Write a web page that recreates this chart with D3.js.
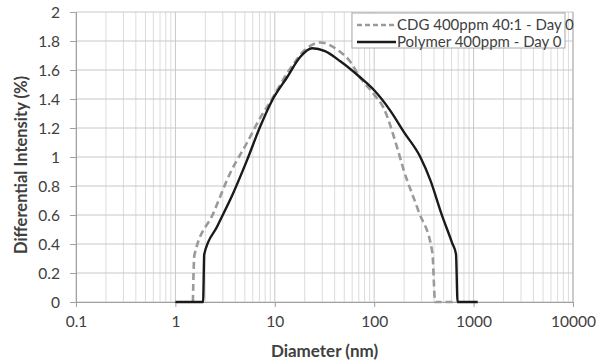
<!DOCTYPE html>
<html>
<head>
<meta charset="utf-8">
<script src="https://cdn.jsdelivr.net/npm/d3@7"></script>
<style>
  body { margin: 0; background: #fff; }
  #chart { width: 604px; height: 364px; }
  text { font-family: Lato, "Open Sans", sans-serif; fill: #404040; }
</style>
</head>
<body>
<div id="chart"></div>
<script>
// values
var cdgX = [1.5, 1.55, 2.4, 3.56, 5.27, 7.13, 9, 14, 21, 28.6, 42.5, 57, 72, 100, 124, 171, 196, 278, 385, 410, 650]
var cdgY = [0, 0.32, 0.61, 0.89, 1.10, 1.27, 1.38, 1.60, 1.75, 1.79, 1.74, 1.66, 1.55, 1.43, 1.34, 1.06, 0.92, 0.63, 0.34, 0, 0]
var polyX = [1, 1.9, 1.95, 2.63, 3.81, 5.27, 7.13, 9.4, 13.3, 18, 23.8, 32, 45.6, 72, 100, 145, 200, 291, 367, 474, 606, 665, 690, 1100]
var polyY = [0, 0, 0.33, 0.52, 0.75, 0.98, 1.21, 1.39, 1.55, 1.69, 1.75, 1.73, 1.66, 1.55, 1.46, 1.32, 1.17, 1.0, 0.84, 0.61, 0.41, 0.33, 0, 0]
var seriesNames = ["CDG 400ppm 40:1 - Day 0", "Polymer 400ppm - Day 0"]
var xTicks = [0.1, 1, 10, 100, 1000, 10000]
var yTicks = [0, 0.2, 0.4, 0.6, 0.8, 1, 1.2, 1.4, 1.6, 1.8, 2]

var width = 604, height = 364
const margin = {top: 12, right: 31, bottom: 62, left: 76}

var svg = d3.select("#chart").append("svg")
    .attr("width", width)
    .attr("height", height)
    .attr("display", "block")

var xScale = d3.scaleLog()
    .domain([0.1, 10000])
    .range([margin.left, width - margin.right])
var yScale = d3.scaleLinear()
    .domain([0, 2])
    .range([height - margin.bottom, margin.top])

// minor gridlines for the log axis
var minor = []
for (var e = -1; e < 4; e++)
    for (var m = 2; m < 10; m++)
        minor.push(m * Math.pow(10, e))

svg.append("g").selectAll("line").data(minor).enter().append("line")
    .attr("x1", d => xScale(d)).attr("x2", d => xScale(d))
    .attr("y1", yScale(0)).attr("y2", yScale(2))
    .attr("stroke", "#dcdcdc").attr("stroke-width", 1)

svg.append("g").selectAll("line").data(xTicks).enter().append("line")
    .attr("x1", d => xScale(d)).attr("x2", d => xScale(d))
    .attr("y1", yScale(0)).attr("y2", yScale(2))
    .attr("stroke", "#c8c8c8").attr("stroke-width", 1)

svg.append("g").selectAll("line").data(yTicks).enter().append("line")
    .attr("x1", xScale(0.1)).attr("x2", xScale(10000))
    .attr("y1", d => yScale(d)).attr("y2", d => yScale(d))
    .attr("stroke", "#c8c8c8").attr("stroke-width", 1)

// axes
var xAxis = d3.axisBottom(xScale)
    .tickValues(xTicks)
    .tickFormat(d3.format("~g"))
    .tickSize(5)
    .tickPadding(9)
var yAxis = d3.axisLeft(yScale)
    .tickValues(yTicks)
    .tickFormat(d3.format("~g"))
    .tickSize(6)
    .tickPadding(10)

var gx = svg.append("g")
    .attr("transform", "translate(0," + yScale(0) + ")")
    .call(xAxis)
var gy = svg.append("g")
    .attr("transform", "translate(" + xScale(0.1) + ",0)")
    .call(yAxis)

svg.selectAll(".domain").attr("stroke", "#a0a0a0")
svg.selectAll(".tick line").attr("stroke", "#a0a0a0")
svg.selectAll(".tick text").style("font-size", "15.5px").attr("fill", "#404040")
gy.selectAll(".tick text").attr("dy", "0.35em")

// right border of plot area
svg.append("line")
    .attr("x1", xScale(10000)).attr("x2", xScale(10000))
    .attr("y1", yScale(0)).attr("y2", yScale(2))
    .attr("stroke", "#b4b4b4")

svg.append("text")
    .attr("transform", "translate(" + ((xScale(0.1) + xScale(10000)) / 2) + "," + (height - 7) + ")")
    .style("text-anchor", "middle")
    .style("font-size", "17px")
    .style("font-weight", "bold")
    .text("Diameter (nm)")

svg.append("text")
    .attr("transform", "translate(" + 27 + "," + 165 + ")rotate(-90)")
    .style("text-anchor", "middle")
    .style("font-size", "16.5px")
    .style("font-weight", "bold")
    .text("Differential Intensity (%)")

// series
var line = d3.line()
    .x(d => xScale(d[0]))
    .y(d => yScale(d[1]))
    .curve(d3.curveMonotoneX)

svg.append("path")
    .datum(d3.zip(cdgX, cdgY))
    .attr("d", line)
    .attr("fill", "none")
    .attr("stroke", "#9a9a9a")
    .attr("stroke-width", 2.6)
    .attr("stroke-dasharray", "7,4")

svg.append("path")
    .datum(d3.zip(polyX, polyY))
    .attr("d", line)
    .attr("fill", "none")
    .attr("stroke", "#1a1a1a")
    .attr("stroke-width", 2.4)

// legend
var lg = svg.append("g").attr("transform", "translate(352,13)")
lg.append("rect")
    .attr("width", 213).attr("height", 35)
    .attr("fill", "#fff").attr("stroke", "#a8a8a8")
var styles = [{c: "#9a9a9a", dash: "5,3", w: 2.6}, {c: "#1a1a1a", dash: null, w: 2.4}]
seriesNames.forEach(function(name, i) {
    var yy = 12 + i * 17
    lg.append("line")
        .attr("x1", 5).attr("x2", 44)
        .attr("y1", yy).attr("y2", yy)
        .attr("stroke", styles[i].c)
        .attr("stroke-width", styles[i].w)
        .attr("stroke-dasharray", styles[i].dash)
    lg.append("text")
        .attr("x", 45).attr("y", yy)
        .attr("dy", "0.35em")
        .style("font-size", "15px")
        .text(name)
})
</script>
</body>
</html>
